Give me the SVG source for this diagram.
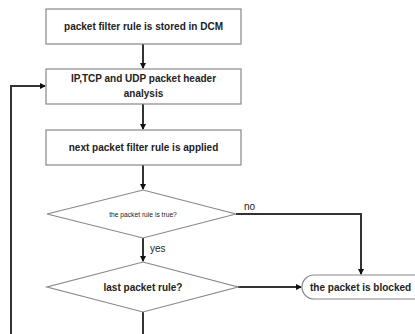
<svg xmlns="http://www.w3.org/2000/svg" width="415" height="334" viewBox="0 0 415 334">
<style>
.box{fill:#fff;stroke:#888;stroke-width:1.2}
.t{font-family:"Liberation Sans",Arial,sans-serif;font-weight:bold;font-size:10px;fill:#222;text-anchor:middle}
.ts{font-family:"Liberation Sans",Arial,sans-serif;font-size:6.7px;fill:#222;text-anchor:middle}
.lbl{font-family:"Liberation Sans",Arial,sans-serif;font-size:10px;fill:#222}
.c{fill:none;stroke:#333;stroke-width:2}
</style>
<defs>
<marker id="ah" markerWidth="6" markerHeight="6" refX="5" refY="3" orient="auto" markerUnits="userSpaceOnUse">
<path d="M0,0 L6,3 L0,6 Z" fill="#111"/>
</marker>
</defs>
<rect width="415" height="334" fill="#fff"/>
<g id="connectors">
<line class="c" x1="143" y1="44" x2="143" y2="68" marker-end="url(#ah)"/>
<line class="c" x1="143" y1="104" x2="143" y2="129" marker-end="url(#ah)"/>
<line class="c" x1="143" y1="165" x2="143" y2="189" marker-end="url(#ah)"/>
<line class="c" x1="143" y1="238" x2="143" y2="261" marker-end="url(#ah)"/>
<line class="c" x1="143" y1="312" x2="143" y2="334"/>
<polyline class="c" points="11,334 11,86 45,86" marker-end="url(#ah)"/>
<polyline class="c" points="236,214 361,214 361,274" marker-end="url(#ah)"/>
<line class="c" x1="238" y1="287" x2="301" y2="287" marker-end="url(#ah)"/>
<text class="lbl" x="244" y="210">no</text>
<text class="lbl" x="150" y="252">yes</text>
</g>
<g id="n1">
<rect class="box" x="46" y="9" width="195" height="35"/>
<text class="t" x="143.5" y="30">packet filter rule is stored in DCM</text>
</g>
<g id="n2">
<rect class="box" x="46" y="69" width="195" height="35"/>
<text class="t" x="143.5" y="82">IP,TCP and UDP packet header</text>
<text class="t" x="143.5" y="97">analysis</text>
</g>
<g id="n3">
<rect class="box" x="46" y="130" width="195" height="35"/>
<text class="t" x="143.5" y="151">next packet filter rule is applied</text>
</g>
<g id="d1">
<polygon class="box" points="143,190 236,214 143,238 47,214"/>
<text class="ts" x="143" y="217">the packet rule is true?</text>
</g>
<g id="d2">
<polygon class="box" points="143,262 238,287 143,312 47,287"/>
<text class="t" x="143" y="291">last packet rule?</text>
</g>
<g id="end">
<rect class="box" x="302" y="275" width="130" height="24" rx="12" ry="12"/>
<text class="t" x="310" y="291" style="text-anchor:start">the packet is blocked</text>
</g>
</svg>
